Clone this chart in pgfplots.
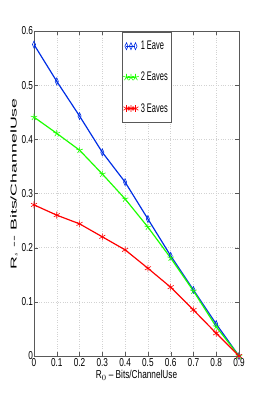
\documentclass[border=0pt]{standalone}
\usepackage{fontspec}
\setmainfont[FakeStretch=0.72]{Liberation Sans}
\newfontfamily\legfont[FakeStretch=0.6]{Liberation Sans}
\newfontfamily\ylabfont[FakeStretch=2.1]{Liberation Sans}
\usepackage{pgfplots}
\pgfplotsset{compat=1.18}
\begin{document}
\begin{tikzpicture}
\useasboundingbox (-34bp,-53bp) rectangle (230bp,356bp);
\begin{axis}[
  at={(0,0)}, anchor=south west,
  scale only axis, width=205bp, height=325bp,
  xmin=0, xmax=0.9, ymin=0, ymax=0.6,
  xtick={0,0.1,...,0.9}, ytick={0,0.1,...,0.6},
  xticklabels={0,0.1,0.2,0.3,0.4,0.5,0.6,0.7,0.8,0.9},
  yticklabels={0,0.1,0.2,0.3,0.4,0.5,0.6},
  /pgf/number format/assume math mode=true,
  tick label style={font=\fontsize{11.5}{11.5}\selectfont},
  yticklabel style={xshift=2.5bp},
  xticklabel style={yshift=1bp},
  xlabel style={font=\fontsize{11.5}{11.5}\selectfont, yshift=3bp},
  ylabel style={font=\ylabfont\fontsize{8.5}{8.5}\selectfont, yshift=-3bp,
    at={(ticklabel cs:0.53)}},
  grid=major,
  major grid style={gray!35, dotted},
  axis line style={gray!70!black},
  tick style={gray!70!black},
  tick align=inside,
  xlabel={R$_0$ -- Bits/ChannelUse},
  ylabel={R$_s$ -- Bits/ChannelUse},
  legend style={at={(0.429,0.997)}, anchor=north west, draw=gray!70!black,
    font=\legfont\fontsize{12.5}{12.5}\selectfont, row sep=17bp, inner ysep=7bp,
    inner xsep=1bp, cells={anchor=west}},
  legend image code/.code={\draw[#1] plot coordinates {(0bp,0bp) (9bp,0bp)};
     \draw[#1, only marks] plot coordinates {(4.5bp,0bp)};},
]
\addplot[blue!80!cyan!90!black, line width=1.2pt, mark=diamond, mark size=3.5pt,
  mark options={line width=0.6pt, xscale=0.6}] coordinates {
(0,0.575) (0.1,0.507) (0.2,0.443) (0.3,0.376) (0.4,0.321)
(0.5,0.253) (0.6,0.185) (0.7,0.122) (0.8,0.059) (0.9,0.0)};
\addlegendentry{1 Eave}
\addplot[green!85!lime, line width=1.2pt, mark=star, mark size=3.5pt,
  mark options={line width=0.6pt}] coordinates {
(0,0.441) (0.1,0.411) (0.2,0.380) (0.3,0.336) (0.4,0.290)
(0.5,0.238) (0.6,0.181) (0.7,0.120) (0.8,0.054) (0.9,0.0)};
\addlegendentry{2 Eaves}
\addplot[red, line width=1.2pt, mark=asterisk, mark size=3.5pt,
  mark options={line width=0.6pt}] coordinates {
(0,0.279) (0.1,0.260) (0.2,0.244) (0.3,0.220) (0.4,0.196)
(0.5,0.162) (0.6,0.127) (0.7,0.085) (0.8,0.042) (0.9,0.0)};
\addlegendentry{3 Eaves}
\end{axis}
\end{tikzpicture}
\end{document}
